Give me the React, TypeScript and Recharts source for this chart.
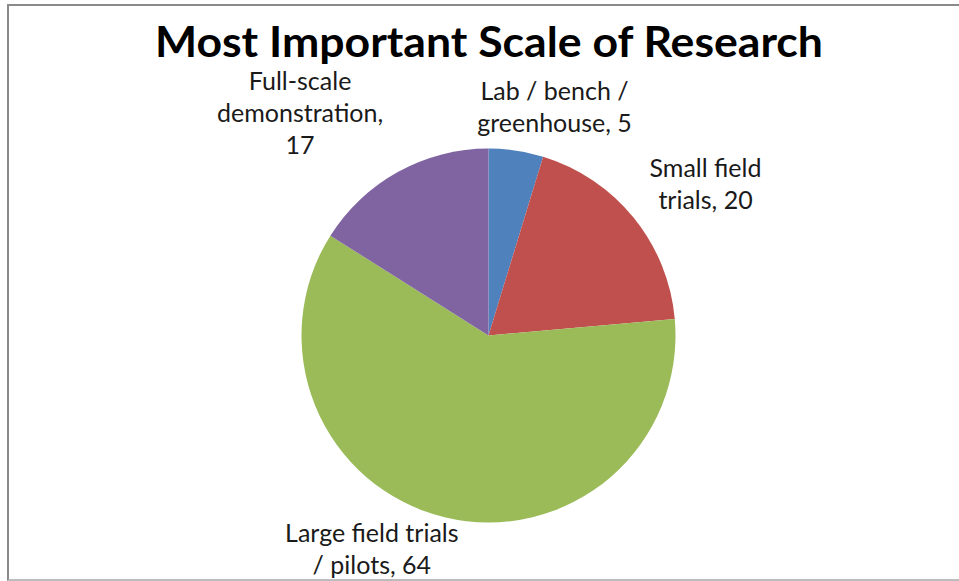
import React from "react";
import { PieChart, Pie, Cell } from "recharts";

// Survey answers: most important scale of research
const categories = [
  "Lab / bench / greenhouse",
  "Small field trials",
  "Large field trials / pilots",
  "Full-scale demonstration",
];
const counts = [5, 20, 64, 17];
const sliceColors = ["#4F81BD", "#C0504D", "#9BBB59", "#8064A2"];
const chartTitle = "Most Important Scale of Research";

// Label layout per slice: wrap width (characters) and a nudge from the default spot
const labelLayout = [
  { wrap: 14, dx: 31, dy: 5 },
  { wrap: 12, dx: 33, dy: -3 },
  { wrap: 18, dx: -61, dy: -18 },
  { wrap: 14, dx: -74, dy: -16 },
];

const data = categories.map((name, i) => ({ name, value: counts[i] }));

const RAD = Math.PI / 180;
const LABEL_FONT = "Lato, 'Open Sans', sans-serif";
const LINE_H = 32;

function wrapText(text: string, maxChars: number): string[] {
  const words = text.split(" ");
  const lines: string[] = [];
  let cur = "";
  for (const w of words) {
    const next = cur ? cur + " " + w : w;
    if (next.length > maxChars && cur) {
      lines.push(cur);
      cur = w;
    } else {
      cur = next;
    }
  }
  if (cur) lines.push(cur);
  return lines;
}

const renderLabel = (props: any) => {
  const { cx, cy, midAngle, outerRadius, index, name, value } = props;
  const layout = labelLayout[index];
  const r = outerRadius + 50;
  const x = cx + r * Math.cos(-midAngle * RAD) + layout.dx;
  const y = cy + r * Math.sin(-midAngle * RAD) + layout.dy;
  const lines = wrapText(`${name}, ${value}`, layout.wrap);
  const y0 = y - ((lines.length - 1) * LINE_H) / 2;
  return (
    <text
      key={`lbl-${index}`}
      x={x}
      y={y0}
      textAnchor="middle"
      dominantBaseline="central"
      fontFamily={LABEL_FONT}
      fontSize={25}
      fill="#1a1a1a"
    >
      {lines.map((ln, i) => (
        <tspan key={i} x={x} y={y0 + i * LINE_H}>
          {ln}
        </tspan>
      ))}
    </text>
  );
};

export default function App() {
  return (
    <div style={{ position: "absolute", left: 0, top: 0, width: 959, height: 581, background: "#fff" }}>
      <div
        style={{
          position: "absolute",
          left: 7,
          top: 4,
          width: 952,
          height: 577,
          boxSizing: "border-box",
          borderTop: "2px solid #8a8a8a",
          borderLeft: "2px solid #8a8a8a",
          borderBottom: "2px solid #bcbcbc",
        }}
      />
      <div style={{ position: "absolute", left: 0, top: 0 }}>
        <PieChart width={959} height={581} margin={{ top: 0, right: 0, bottom: 0, left: 0 }}>
          <text
            x={489}
            y={57}
            textAnchor="middle"
            fontFamily={LABEL_FONT}
            fontWeight={700}
            fontSize={42}
            textLength={668}
            lengthAdjust="spacingAndGlyphs"
            fill="#000"
          >
            {chartTitle}
          </text>
          <Pie
            data={data}
            dataKey="value"
            nameKey="name"
            cx={488.5}
            cy={335.5}
            outerRadius={187}
            startAngle={90}
            endAngle={-270}
            stroke="none"
            label={renderLabel}
            labelLine={false}
            isAnimationActive={false}
          >
            {data.map((d, i) => (
              <Cell key={d.name} fill={sliceColors[i]} />
            ))}
          </Pie>
        </PieChart>
      </div>
    </div>
  );
}
